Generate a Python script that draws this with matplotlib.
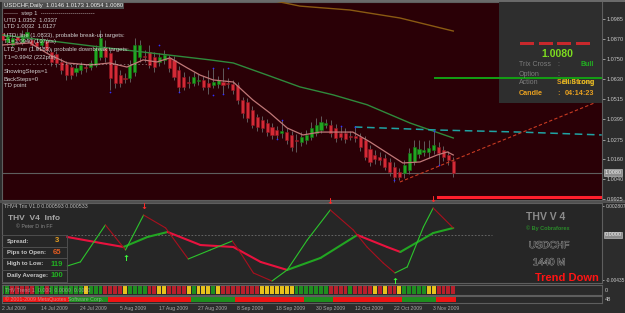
import matplotlib
matplotlib.use("Agg")
import matplotlib.pyplot as plt
import matplotlib.transforms as mtransforms
import matplotlib.patheffects as pe
from matplotlib.lines import Line2D
from matplotlib.patches import Rectangle

plt.rcParams["font.family"] = ["Liberation Sans", "DejaVu Sans"]

W, H = 625, 313

# USDCHF daily candles, 2 Jul 2009 -> early Nov 2009
opens = [1.0903, 1.0850, 1.0832, 1.0885, 1.0850, 1.0879, 1.0861, 1.0850, 1.0832, 1.0855,
         1.0791, 1.0779, 1.0732, 1.0720, 1.0702, 1.0673, 1.0685, 1.0702, 1.0702, 1.0714,
         1.0761, 1.0820, 1.0785, 1.0714, 1.0655, 1.0638, 1.0638, 1.0673, 1.0761, 1.0767,
         1.0791, 1.0761, 1.0732, 1.0744, 1.0756, 1.0744, 1.0685, 1.0644, 1.0614, 1.0608,
         1.0620, 1.0626, 1.0608, 1.0596, 1.0602, 1.0614, 1.0608, 1.0602, 1.0596, 1.0508,
         1.0496, 1.0449, 1.0408, 1.0390, 1.0372, 1.0349, 1.0331, 1.0314, 1.0319, 1.0302,
         1.0272, 1.0261, 1.0272, 1.0290, 1.0314, 1.0331, 1.0361, 1.0361, 1.0343, 1.0314,
         1.0314, 1.0296, 1.0296, 1.0290, 1.0272, 1.0220, 1.0184, 1.0172, 1.0166, 1.0143,
         1.0113, 1.0084, 1.0078, 1.0095, 1.0143, 1.0190, 1.0202, 1.0202, 1.0213, 1.0231,
         1.0213, 1.0184, 1.0146]
highs = [1.0920, 1.0903, 1.0897, 1.0903, 1.0920, 1.0932, 1.0879, 1.0873, 1.0885, 1.0873,
         1.0814, 1.0797, 1.0756, 1.0738, 1.0720, 1.0720, 1.0732, 1.0720, 1.0744, 1.0832,
         1.0920, 1.0861, 1.0814, 1.0744, 1.0685, 1.0667, 1.0744, 1.0873, 1.0861, 1.0802,
         1.0832, 1.0791, 1.0785, 1.0802, 1.0773, 1.0767, 1.0708, 1.0673, 1.0649, 1.0673,
         1.0661, 1.0649, 1.0685, 1.0697, 1.0649, 1.0697, 1.0638, 1.0626, 1.0614, 1.0526,
         1.0520, 1.0473, 1.0426, 1.0414, 1.0396, 1.0372, 1.0355, 1.0390, 1.0343, 1.0325,
         1.0308, 1.0319, 1.0331, 1.0378, 1.0402, 1.0414, 1.0396, 1.0390, 1.0367, 1.0355,
         1.0343, 1.0325, 1.0355, 1.0314, 1.0296, 1.0243, 1.0213, 1.0202, 1.0190, 1.0166,
         1.0143, 1.0107, 1.0154, 1.0225, 1.0272, 1.0272, 1.0266, 1.0272, 1.0325, 1.0261,
         1.0237, 1.0208, 1.0173]
lows = [1.0844, 1.0832, 1.0814, 1.0838, 1.0832, 1.0861, 1.0814, 1.0802, 1.0814, 1.0785,
        1.0708, 1.0702, 1.0661, 1.0626, 1.0632, 1.0649, 1.0661, 1.0673, 1.0685, 1.0702,
        1.0744, 1.0732, 1.0567, 1.0579, 1.0585, 1.0608, 1.0614, 1.0649, 1.0732, 1.0732,
        1.0697, 1.0673, 1.0708, 1.0720, 1.0673, 1.0626, 1.0555, 1.0567, 1.0579, 1.0591,
        1.0596, 1.0567, 1.0544, 1.0579, 1.0579, 1.0544, 1.0579, 1.0544, 1.0486, 1.0402,
        1.0378, 1.0343, 1.0325, 1.0319, 1.0296, 1.0278, 1.0278, 1.0284, 1.0249, 1.0208,
        1.0202, 1.0237, 1.0249, 1.0272, 1.0296, 1.0314, 1.0343, 1.0290, 1.0261, 1.0272,
        1.0255, 1.0272, 1.0261, 1.0208, 1.0154, 1.0119, 1.0131, 1.0125, 1.0095, 1.0060,
        1.0025, 1.0037, 1.0048, 1.0072, 1.0125, 1.0166, 1.0178, 1.0166, 1.0190, 1.0125,
        1.0148, 1.0125, 1.0054]
closes = [1.0861, 1.0885, 1.0873, 1.0861, 1.0891, 1.0909, 1.0832, 1.0826, 1.0861, 1.0802,
          1.0732, 1.0726, 1.0685, 1.0655, 1.0655, 1.0697, 1.0714, 1.0697, 1.0726, 1.0814,
          1.0873, 1.0761, 1.0638, 1.0608, 1.0608, 1.0632, 1.0714, 1.0832, 1.0832, 1.0761,
          1.0714, 1.0702, 1.0761, 1.0773, 1.0697, 1.0644, 1.0585, 1.0585, 1.0608, 1.0644,
          1.0626, 1.0585, 1.0585, 1.0614, 1.0626, 1.0596, 1.0602, 1.0567, 1.0508, 1.0431,
          1.0402, 1.0361, 1.0349, 1.0343, 1.0319, 1.0302, 1.0302, 1.0325, 1.0272, 1.0231,
          1.0266, 1.0290, 1.0302, 1.0343, 1.0361, 1.0378, 1.0372, 1.0314, 1.0284, 1.0290,
          1.0278, 1.0290, 1.0284, 1.0231, 1.0172, 1.0143, 1.0160, 1.0154, 1.0113, 1.0084,
          1.0054, 1.0054, 1.0125, 1.0196, 1.0231, 1.0220, 1.0213, 1.0225, 1.0243, 1.0196,
          1.0172, 1.0154, 1.0080]

# moving averages (bar index, price)
ma_fast_x = [0, 5.6, 9.7, 13.2, 17.9, 21.9, 25.4, 28.7, 31.5, 34.2, 37.7, 40.3, 43, 47.1,
             51.1, 54.6, 58.1, 61.3, 64.8, 68.3, 71.5, 75, 78.5, 81.7, 85.2, 88.7, 90.8, 92]
ma_fast_y = [1.0832, 1.0844, 1.0773, 1.0726, 1.0714, 1.0726, 1.0702, 1.0744, 1.0732, 1.0756,
             1.0697, 1.0655, 1.0626, 1.0614, 1.0508, 1.0431, 1.0343, 1.0302, 1.0319, 1.0319,
             1.0319, 1.0261, 1.0196, 1.0137, 1.0143, 1.0184, 1.0202, 1.0184]
ma_mid_x = [0, 19.9, 42.4, 47.1, 54, 60.7, 67.5, 74.4, 83.2, 92]
ma_mid_y = [1.0891, 1.0820, 1.0744, 1.0726, 1.0655, 1.0585, 1.0538, 1.0480, 1.0372, 1.0284]
ma_slow_x = [55, 60.7, 70.9, 81.1, 92]
ma_slow_y = [1.1095, 1.1061, 1.1038, 1.0991, 1.0914]

# trend lines / levels
cyan_x = [71.9, 88.9, 105.6, 122.3]
cyan_y = [1.0349, 1.0331, 1.0319, 1.0302]
trend_x = [81.1, 122.3]
trend_y = [1.0025, 1.0508]
green_level = 1.0638
red_level = 0.9934
last_price = 1.0080

# fractal dots
frac_x = [22, 32, 36, 43, 43, 46, 45, 56, 57, 69, 72, 80, 88, 89]
frac_y = [1.0555, 1.0832, 1.0555, 1.0697, 1.0538, 1.0697, 1.0544, 1.0278, 1.0390,
          1.0355, 1.0349, 1.0037, 1.0325, 1.0125]

price_ticks = [1.0985, 1.0870, 1.0750, 1.0630, 1.0515, 1.0395, 1.0275, 1.0160, 1.0040, 0.9925]

# THV4 Trix oscillator
trix_x = [13.2, 15.9, 21, 25.1, 28.8, 33.3, 37.9, 42.4, 46.9, 48.6, 51.2, 55, 58.1, 62.2,
          66.9, 71.6, 74.4, 77.7, 80.1, 82.6, 85.9, 87.9, 92]
trix_y = [-0.0030, -0.0026, 0.00097, -0.00145, 0.00193, 0.00068, -0.00232, -0.00145,
          -0.00058, -0.00174, -0.00367, -0.00445, -0.00338, -0.00048, 0.00242, 0.00048,
          -0.00116, -0.00271, -0.00367, -0.00309, 0.00077, 0.00261, 0.00068]
sig_x = [13.2, 20, 24.7, 29.6, 33.7, 40.4, 47.1, 52.7, 58.1, 64.9, 72.4, 78.5, 81.2, 87.9, 92]
sig_y = [-0.00019, -0.00077, -0.00116, -0.00019, 0.00029, -0.00097, -0.00116, -0.00261,
         -0.00338, -0.00222, 0.0, -0.00116, -0.00164, 0.00019, 0.00068]
arrow_dn_x = [28.8, 66.9, 87.9]
arrow_dn_y = [0.00193, 0.00242, 0.00261]
arrow_up_x = [25.1, 80.1]
arrow_up_y = [-0.00145, -0.00367]

# heat rows
heat1 = list("GGRRRRRGGR" "GGGGGGGYGG" "GRRRRYGGGG" "RRYYRRRRYG" "YYYGYRRRRR"
             "RRRYYYYYYY" "GGGGGGGRRR" "RGRRRRYRYR" "RYGGGGGYYR" "RRR")
heat2 = list("RRRRRRRRRRRRRR" "GGGGGGGG" "RRRRRRRRRRRRRRRRR" "GGGGGGGGG" "RRRRRRRRRRRRRR"
             "GGGGGG" "RRRRRRRRRRRRRR" "GGGGGGG" "RRRR")

date_labels = ["2 Jul 2009", "14 Jul 2009", "24 Jul 2009", "5 Aug 2009", "17 Aug 2009",
               "27 Aug 2009", "8 Sep 2009", "18 Sep 2009", "30 Sep 2009", "12 Oct 2009",
               "22 Oct 2009", "3 Nov 2009"]
date_pos = [0, 8, 16, 24, 32, 40, 48, 56, 64, 72, 80, 88]

XLIM = (-0.1, 122.35)


def rect(x0, y0, x1, y1):
    return [x0 / W, 1 - y1 / H, (x1 - x0) / W, (y1 - y0) / H]


def fx(x):
    return x / W


def fy(y):
    return 1 - y / H


fig = plt.figure(figsize=(6.25, 3.13), dpi=100, facecolor="#2c2c2c")

# ---------------- main price panel ----------------
ax = fig.add_axes(rect(2, 2, 602, 200), facecolor="#2a0006")
ax.set_xlim(*XLIM)
ax.set_ylim(0.99189, 1.10851)

for i in range(len(closes)):
    o, h, l, c = opens[i], highs[i], lows[i], closes[i]
    ax.vlines(i, l, h, color="#6a6a6a", lw=0.6, zorder=2)
    if c >= o:
        fc, ec = "#22a522", "#137513"
    else:
        fc, ec = "#d42a36", "#8e1520"
    ax.bar(i, max(abs(c - o), 0.0004), bottom=min(o, c), width=0.62,
           color=fc, edgecolor=ec, linewidth=0.4, zorder=3)

ax.plot(ma_slow_x, ma_slow_y, color="#8a5a12", lw=1.0, zorder=4)
ax.plot(ma_mid_x, ma_mid_y, color="#2f8a3c", lw=1.0, zorder=4)
ax.plot(ma_fast_x, ma_fast_y, color="#c07878", lw=0.9, zorder=4)
ax.plot(cyan_x, cyan_y, color="#1fa3a3", lw=1.1, dashes=(5, 3), zorder=4)
ax.plot(trend_x, trend_y, color="#c83a22", lw=0.8, dashes=(3, 2), zorder=4)
ax.axhline(last_price, color="#5e5e5e", lw=0.8, zorder=1)
ax.plot([88.2, XLIM[1]], [green_level] * 2, color="#14a014", lw=1.4, zorder=7)
ax.plot([88.9, XLIM[1]], [red_level] * 2, color="#ff1f2c", lw=2.2, zorder=4)
ax.scatter(frac_x, frac_y, s=1.5, color="#3030ff", zorder=5, linewidths=0)

ax.set_xticks([])
ax.yaxis.tick_right()
ax.set_yticks(price_ticks)
ax.set_yticklabels([f"{v:.4f}" for v in price_ticks])
ax.tick_params(axis="y", colors="#c8c8c8", labelsize=4, length=2, pad=1.5, width=0.5)
bt = mtransforms.blended_transform_factory(ax.transAxes, ax.transData)
ax.text(1.004, last_price, "1.0080", transform=bt, fontsize=4, color="#f0f0f0",
        va="center", ha="left",
        bbox=dict(boxstyle="square,pad=0.15", fc="#8c8c8c", ec="#d0d0d0", lw=0.4))

# info box top right
ax.add_patch(Rectangle((fx(499), fy(103)), 103 / W, 101 / H, transform=fig.transFigure,
                       facecolor="#2e2e2e", edgecolor="none", zorder=6))
for x0 in [520, 539, 557, 576]:
    ax.add_patch(Rectangle((fx(x0), fy(45)), 14 / W, 3 / H, transform=fig.transFigure,
                           facecolor="#c8282c", edgecolor="none", zorder=7))

# ---------------- oscillator panel ----------------
ao = fig.add_axes(rect(2, 203, 602, 283), facecolor="#262626")
ao.set_xlim(*XLIM)
ao.set_ylim(-0.004642, 0.003094)
ao.plot([14, 100], [0, 0], color="#6e6e6e", lw=0.6, dashes=(2, 2))


def draw_trix(xs, ys, up, down, lw):
    for k in range(len(xs) - 1):
        col = up if ys[k + 1] >= ys[k] else down
        ao.plot(xs[k:k + 2], ys[k:k + 2], color=col, lw=lw, solid_capstyle="round")


draw_trix(sig_x, sig_y, "#22a622", "#e8123e", 1.5)
draw_trix(trix_x, trix_y, "#2cc42c", "#a8101e", 0.8)
for x, y in zip(arrow_dn_x, arrow_dn_y):
    ao.annotate("↓", (x, y), xytext=(0, 3), textcoords="offset points", ha="center",
                va="bottom", color="#ff2a2a", fontsize=6, fontweight="bold",
                family="DejaVu Sans")
for x, y in zip(arrow_up_x, arrow_up_y):
    ao.annotate("↑", (x, y), xytext=(0, -3), textcoords="offset points", ha="center",
                va="top", color="#3cff3c", fontsize=6, fontweight="bold",
                family="DejaVu Sans")

ao.set_xticks([])
ao.yaxis.tick_right()
ao.set_yticks([0.002807, -0.00435])
ao.set_yticklabels(["0.002807", "-0.00435"])
ao.tick_params(axis="y", colors="#c8c8c8", labelsize=3.5, length=1.5, pad=1, width=0.5)
bto = mtransforms.blended_transform_factory(ao.transAxes, ao.transData)
ao.text(1.004, 0, "0.0000", transform=bto, fontsize=4, color="#f0f0f0", va="center",
        ha="left", bbox=dict(boxstyle="square,pad=0.15", fc="#8c8c8c", ec="#d0d0d0", lw=0.4))

# ---------------- heat rows ----------------
colmap1 = {"G": "#1f8e1f", "R": "#b8202c", "Y": "#e8c21c"}
colmap2 = {"G": "#1f8e1f", "R": "#ee1414"}
ah1 = fig.add_axes(rect(2, 285, 602, 294.5), facecolor="#2a2a2a")
ah1.set_xlim(*XLIM)
ah1.set_ylim(0, 1)
ah1.bar(range(len(heat1)), 0.84, bottom=0.08, width=0.8, color=[colmap1[c] for c in heat1])
ah2 = fig.add_axes(rect(2, 295.5, 602, 302.5), facecolor="#2a2a2a")
ah2.set_xlim(*XLIM)
ah2.set_ylim(0, 1)
ah2.bar(range(len(heat2)), 0.8, bottom=0.1, width=1.0, color=[colmap2[c] for c in heat2])
for a in (ah1, ah2):
    a.set_xticks([])
    a.set_yticks([])

for a in (ax, ao, ah1, ah2):
    for s in a.spines.values():
        s.set_color("#5e5e5e")
        s.set_linewidth(0.8)

fig.text(fx(605), fy(290), "0", fontsize=4, color="#c8c8c8", va="center")
fig.text(fx(605), fy(299.5), "48", fontsize=4, color="#c8c8c8", va="center")
fig.text(fx(5), fy(290), "THV Trend 1  0.000  0.0000  0.0000", fontsize=3.8,
         color="#cfcfcf", alpha=0.55, va="center")
fig.text(fx(5), fy(299), "© 2001-2009 MetaQuotes Software Corp.", fontsize=3.8,
         color="#cfcfcf", alpha=0.6, va="center")

# date axis
dt = mtransforms.blended_transform_factory(ah2.transData, fig.transFigure)
for p, lab in zip(date_pos, date_labels):
    fig.text(p - 0.1, fy(308.5), lab, transform=dt, fontsize=3.7, color="#a8a8a8",
             va="center", ha="left")

# ---------------- text overlays ----------------
txt = "#cfcfcf"
fig.text(fx(4), fy(6), "USDCHF,Daily  1.0146 1.0173 1.0054 1.0080", fontsize=4.2,
         color="#f0f0f0", va="center",
         bbox=dict(boxstyle="square,pad=0.12", fc="#4e4e4e", ec="none"))
left_lines = [
    (13, "-------  step 1  ---------------------------"),
    (20, "UTD 1.0352  1.0337"),
    (27, "LTD 1.0032  1.0127"),
    (35, "UTD_line (1.0833), probable break-up targets:"),
    (42, "T1=1.0940 (107pts)"),
    (50, "LTD_line (1.0183), probable downbreak targets:"),
    (57, "T1=0.9942 (222pts)"),
    (64, "- - - - - - - - - - - - - - - - - - - - - - - - - - - - - - - - - - - - - - - - -"),
    (72, "ShowingSteps=1"),
    (79, "BackSteps=0"),
    (86, "TD point"),
]
for y, s in left_lines:
    fig.text(fx(4), fy(y), s, fontsize=4.2, color=txt, va="center")

# top-right info box text
fig.text(fx(557), fy(54), "1.0080", fontsize=7.5, color="#7ddc1f", fontweight="bold",
         ha="center", va="center")
box_rows = [(65, "Trix Cross"), (74, "Option"), (83, "Action")]
for y, s in box_rows:
    fig.text(fx(519), fy(y), s, fontsize=5, color="#7c7c7c", va="center")
    fig.text(fx(557), fy(y), ":", fontsize=5, color="#7c7c7c", va="center")
fig.text(fx(594), fy(65), "Bull", fontsize=5, color="#22b022", fontweight="bold",
         ha="right", va="center")
fig.text(fx(594), fy(83), "Sell Strong", fontsize=5, color="#e0a020", fontweight="bold",
         ha="right", va="center")
fig.text(fx(594), fy(83), "Bull Long", fontsize=5, color="#e6c828", fontweight="bold",
         ha="right", va="center", alpha=0.7)
fig.text(fx(519), fy(93.5), "Candle", fontsize=5.2, color="#e8a020", fontweight="bold",
         va="center")
fig.text(fx(557), fy(93.5), ":", fontsize=5.2, color="#e8a020", fontweight="bold",
         va="center")
fig.text(fx(594), fy(93.5), "04:14:23", fontsize=5.2, color="#e8a020", fontweight="bold",
         ha="right", va="center")

# oscillator left info box
for y in [235, 247, 258, 270, 282]:
    fig.add_artist(Line2D([fx(2), fx(67)], [fy(y), fy(y)], color="#4e4e4e", lw=0.7))
fig.add_artist(Line2D([fx(67), fx(67)], [fy(235), fy(282)], color="#4e4e4e", lw=0.7))
fig.text(fx(4), fy(207), "THV4 Trix V1.0 0.000593 0.000533", fontsize=3.8,
         color="#bdbdbd", va="center")
fig.text(fx(34), fy(219), "THV  V4  Info", fontsize=6, color="#a6a6a6", fontweight="bold",
         ha="center", va="center")
fig.text(fx(34), fy(226.5), "© Peter D in FF", fontsize=3.8, color="#8a8a8a",
         ha="center", va="center")
info_rows = [(241, "Spread:", "3", "#e8a020"), (252.5, "Pips to Open:", "65", "#e05a20"),
             (264, "High to Low:", "119", "#22b022"), (275.5, "Daily Average:", "100", "#22b022")]
for y, lab, val, col in info_rows:
    fig.text(fx(7), fy(y), lab, fontsize=4.3, color="#c8c8c8", fontweight="bold",
             va="center")
    fig.text(fx(57), fy(y), val, fontsize=5.5, color=col, fontweight="bold",
             ha="center", va="center")

# oscillator right logo
fig.text(fx(546), fy(217), "THV V 4", fontsize=7.5, color="#8c8c8c", fontweight="bold",
         ha="center", va="center")
fig.text(fx(548), fy(228), "© By Cobraforex", fontsize=4, color="#2a8a2a",
         fontweight="bold", ha="center", va="center")
for y, s in [(245, "USDCHF"), (262, "1440 M")]:
    fig.text(fx(549), fy(y), s, fontsize=7, color="#2a2a2a", ha="center", va="center",
             fontweight="light",
             path_effects=[pe.withStroke(linewidth=0.55, foreground="#a8a8a8")])
fig.text(fx(567), fy(278), "Trend Down", fontsize=8, color="#ff1414", fontweight="bold",
         ha="center", va="center")

# panel separator bands
fig.add_artist(Rectangle((0, fy(202.5)), 1, 2.5 / H, transform=fig.transFigure,
                         facecolor="#505050", edgecolor="none", zorder=0))
fig.add_artist(Rectangle((0, fy(1.5)), 1, 1.5 / H, transform=fig.transFigure,
                         facecolor="#6a6a6a", edgecolor="none", zorder=0))

fig.savefig("out.png", dpi=100, facecolor=fig.get_facecolor())
